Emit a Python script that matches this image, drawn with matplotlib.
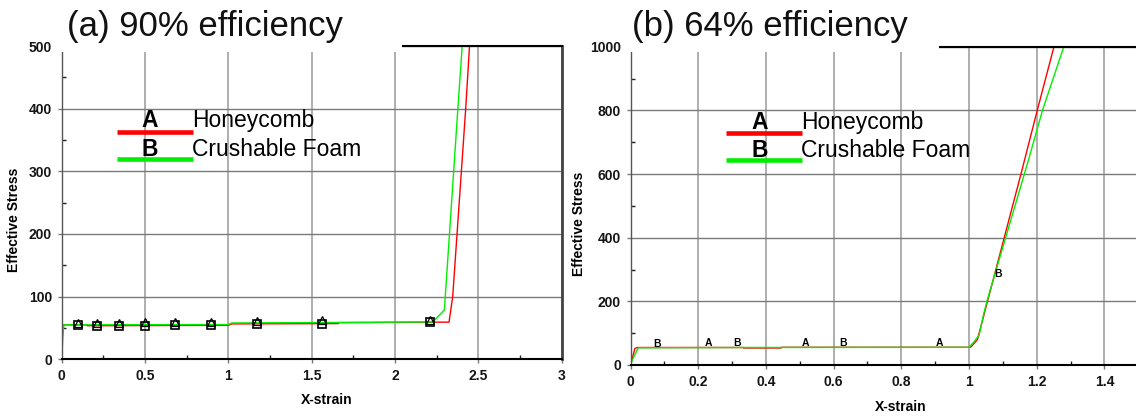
import matplotlib
matplotlib.use("Agg")
from matplotlib import pyplot as plt
from matplotlib.patches import Rectangle
from matplotlib.lines import Line2D
from matplotlib.ticker import MultipleLocator
import numpy as np

plt.rcParams['font.family'] = ['Liberation Sans', 'DejaVu Sans']

# ---- data ----
# (a) 90% efficiency
hc_a_x = [0, 0.005, 0.012, 0.15, 0.154, 1.0, 1.02, 1.659, 1.663, 2.226, 2.324, 2.346, 2.424, 2.447]
hc_a_y = [17, 40, 55, 55, 53.6, 54.2, 56.5, 57, 58.5, 59.3, 59.3, 100, 400, 500]
cf_a_x = [0, 0.008, 0.012, 1.0, 1.02, 2.226, 2.296, 2.377, 2.403]
cf_a_y = [0, 40, 55, 55.5, 58, 59.5, 78.7, 400, 500]
marker_a_x = [0.099, 0.212, 0.343, 0.498, 0.677, 0.893, 1.174, 1.563, 2.21]

# (b) 64% efficiency
hc_b_x = [0, 0.013, 0.02, 0.333, 0.334, 0.445, 0.446, 1.0, 1.006, 1.025, 1.154, 1.2016, 1.251]
hc_b_y = [0, 52, 55, 55, 53.4, 53.4, 55.6, 55.6, 57, 80, 602, 800, 1000]
cf_b_x = [0, 0.005, 0.023, 0.333, 1.0, 1.015, 1.03, 1.044, 1.054, 1.176, 1.217, 1.28]
cf_b_y = [0, 15, 54, 55, 55.6, 73, 94, 163, 204, 645, 800, 1000]
label_a_x = [0.23, 0.516, 0.912]
label_b_x = [0.077, 0.314, 0.629]
label_b_rise_x = 1.077

xt_a = [0, 0.5, 1, 1.5, 2, 2.5, 3]
xt_a_lab = ["0", "0.5", "1", "1.5", "2", "2.5", "3"]
yt_a = [0, 100, 200, 300, 400, 500]
yt_a_lab = ["0", "100", "200", "300", "400", "500"]
xt_b = [0, 0.2, 0.4, 0.6, 0.8, 1.0, 1.2, 1.4]
xt_b_lab = ["0", "0.2", "0.4", "0.6", "0.8", "1", "1.2", "1.4"]
yt_b = [0, 200, 400, 600, 800, 1000]
yt_b_lab = ["0", "200", "400", "600", "800", "1000"]

series_names = ["Honeycomb", "Crushable Foam"]
series_letters = ["A", "B"]
titles = ["(a) 90% efficiency", "(b) 64% efficiency"]

RED = '#ff0000'
GREEN = '#00ee00'

W, H = 1136, 418
fig = plt.figure(figsize=(W / 100, H / 100), dpi=100)


def fx(px):
    return px / W


def fy(py):
    return 1 - py / H


def make_axes(left, top, right, bottom):
    return fig.add_axes([fx(left), fy(bottom), (right - left) / W, (bottom - top) / H])


def style(ax, xt, xl, yt, yl, xminor, yminor):
    ax.set_xticks(xt, xl)
    ax.set_yticks(yt, yl)
    ax.xaxis.set_minor_locator(MultipleLocator(xminor))
    ax.yaxis.set_minor_locator(MultipleLocator(yminor))
    ax.tick_params(which='major', direction='out', length=3, width=1, color='#777777',
                   labelsize=10, pad=4, labelcolor='#151515')
    ax.tick_params(which='minor', direction='in', length=3, width=1, color='#222222')
    for lab in ax.get_xticklabels() + ax.get_yticklabels():
        lab.set_fontweight('bold')
    ax.grid(True, axis='x', which='major', color='#a8a8a8', lw=1.3)
    ax.grid(True, axis='y', which='major', color='#7a7a7a', lw=1.0)
    ax.set_axisbelow(True)
    ax.spines['left'].set_color('#555555')
    ax.spines['left'].set_linewidth(1.0)
    ax.spines['bottom'].set_linewidth(1.5)
    ax.spines['top'].set_linewidth(1.5)
    ax.spines['right'].set_color('#444444')
    ax.spines['right'].set_linewidth(2.0)


# panel (a)
ax1 = make_axes(61.7, 46, 561.7, 359.3)
ax1.plot(hc_a_x, hc_a_y, color=RED, lw=1.0)
ax1.plot(cf_a_x, cf_a_y, color=GREEN, lw=1.0)
ax1.plot(marker_a_x, np.interp(marker_a_x, hc_a_x, hc_a_y), ls='none', marker='s',
         ms=6.3, mfc='none', mec='black', mew=1.2)
ax1.plot(marker_a_x, np.interp(marker_a_x, cf_a_x, cf_a_y) + 3.5, ls='none', marker='^',
         ms=5.3, mfc='none', mec='black', mew=0.9)
ax1.set_xlim(0, 3)
ax1.set_ylim(0, 500)
style(ax1, xt_a, xt_a_lab, yt_a, yt_a_lab, 0.25, 50)

# panel (b)
ax2 = make_axes(630.5, 46.7, 1136, 365)
ax2.plot(hc_b_x, hc_b_y, color=RED, lw=1.0)
ax2.plot(cf_b_x, cf_b_y, color=GREEN, lw=1.0)
ax2.set_xlim(0, (1136 - 630.5) / 338.5)
ax2.set_ylim(0, 1000)
style(ax2, xt_b, xt_b_lab, yt_b, yt_b_lab, 0.1, 100)
ax2.spines['right'].set_visible(False)

for xs, letter in [(label_a_x, "A"), (label_b_x, "B")]:
    for x in xs:
        ax2.annotate(letter, (x, np.interp(x, cf_b_x, cf_b_y)), xytext=(0, 0.8),
                     textcoords='offset points', ha='center', va='baseline',
                     fontsize=7.5, fontweight='bold')
ax2.annotate("B", (label_b_rise_x, np.interp(label_b_rise_x, cf_b_x, cf_b_y)),
             xytext=(2.5, 0), textcoords='offset points', ha='center', va='center',
             fontsize=7.5, fontweight='bold')

# white boxes behind the titles (they hide the top of each frame)
for left, right in [(52.5, 401.7), (621, 939.3)]:
    fig.add_artist(Rectangle((fx(left), fy(51.6)), (right - left) / W, 51.6 / H,
                             transform=fig.transFigure, facecolor='white',
                             edgecolor='none', zorder=5))

# titles
for x0, t in zip([67.3, 632.3], titles):
    fig.text(fx(x0), fy(36), t, fontsize=25, ha='left', va='baseline',
             color='#111111', zorder=6)

# legends
legend_cfg = [
    (150, 117.3, 192.7, 191.7, [127.4, 156], [132.3, 159.3]),
    (759.3, 726, 802, 801.3, [129, 156.6], [133.3, 160]),
]
for cx, lx0, lx1, tx, bases, ly in legend_cfg:
    for letter, name, col, b, y in zip(series_letters, series_names, [RED, GREEN], bases, ly):
        fig.text(fx(cx), fy(b), letter, fontsize=16.5, fontweight='bold',
                 ha='center', va='baseline', zorder=6)
        fig.text(fx(tx), fy(b), name, fontsize=16.5, ha='left', va='baseline', zorder=6)
        fig.add_artist(Line2D([fx(lx0), fx(lx1)], [fy(y), fy(y)], color=col,
                              lw=3.3, solid_capstyle='butt', zorder=6))

# axis labels
for x, y in [(14.5, 219.5), (579, 223.5)]:
    fig.text(fx(x), fy(y), "Effective Stress", rotation=90, fontsize=10,
             fontweight='bold', ha='center', va='center')
for x, y in [(327, 400), (900.5, 407.3)]:
    fig.text(fx(x), fy(y), "X-strain", fontsize=10, fontweight='bold',
             ha='center', va='center')

fig.savefig("out.png", dpi=100)
